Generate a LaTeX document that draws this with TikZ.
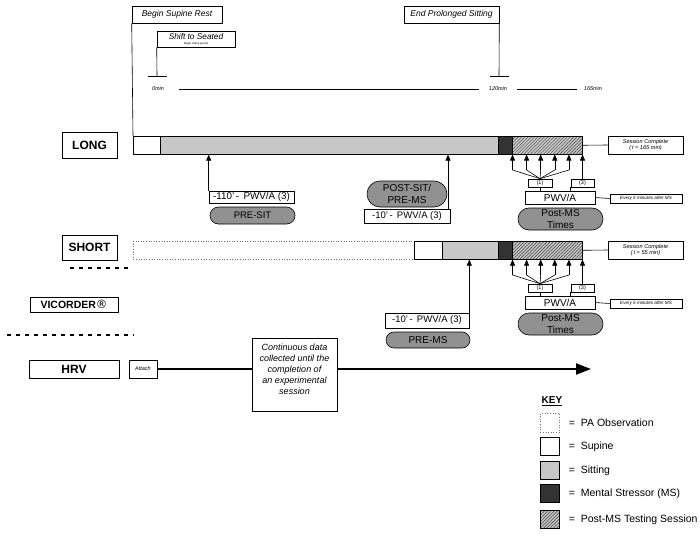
\documentclass[tikz,border=0pt]{standalone}
\usepackage{fontspec}
\setmainfont{Liberation Sans}
\newfontfamily\djv{DejaVu Sans}
\usetikzlibrary{arrows.meta,patterns.meta,shapes.misc}
\begin{document}
\begin{tikzpicture}[x=1pt,y=-1pt,line width=0.6pt,
  box/.style={draw, fill=white, inner sep=0pt, align=center},
  lbl/.style={box, font=\bfseries\fontsize{12}{12}\selectfont},
  seg/.style={draw, inner sep=0pt, anchor=north west, minimum height=18pt},
  supine/.style={seg, fill=white},
  sitting/.style={seg, fill=black!22},
  stressor/.style={seg, fill=black!80},
  hatched/.style={seg, preaction={fill=black!22}, pattern={Lines[angle=45,distance=2.3pt,line width=0.5pt]}, pattern color=black!75},
  paobs/.style={seg, draw=black!55, dotted},
  pill/.style={draw, fill=black!43, rounded rectangle, inner sep=0pt, align=center, font=\fontsize{10}{12}\selectfont},
  up/.style={-{Triangle[width=5pt,length=6pt]}},
  itsm/.style={font=\itshape\fontsize{8.5}{9}\selectfont},
  tinyit/.style={font=\itshape\fontsize{5.6}{6.2}\selectfont},
  sep/.style={line width=1.3pt, dash pattern=on 4pt off 5pt},
  keytxt/.style={anchor=west, font=\fontsize{10.5}{12}\selectfont, inner sep=0pt}]
\path[use as bounding box] (0,0) rectangle (700,535);

% ---- top timeline ----
\node[box, itsm, minimum width=90pt, minimum height=17pt] (bsr) at (177,14.5) {Begin Supine Rest};
\node[box, font=\fontsize{4}{5}\selectfont, minimum width=78pt, minimum height=16pt] (sts) at (196,39)
  {{\itshape\fontsize{8.3}{8.5}\selectfont Shift to Seated}\\{\fontsize{2.8}{3}\selectfont Begin sitting period}};
\node[box, itsm, minimum width=95pt, minimum height=17pt] (eps) at (451.5,14.5) {End Prolonged Sitting};
\coordinate (tk1) at (157,76);
\coordinate (tk2) at (499,76);
\draw (sts.south west) -- (tk1);
\draw ([xshift=-9pt]tk1) -- ([xshift=10pt]tk1);
\draw (eps.south east) -- (tk2);
\draw ([xshift=-9pt]tk2) -- ([xshift=10pt]tk2);
\node[font=\itshape\fontsize{5.5}{6}\selectfont, inner sep=0pt] (t0) at (158,89) {0min};
\node[font=\itshape\fontsize{5.5}{6}\selectfont, inner sep=0pt] (t120) at (498,89) {120min};
\node[font=\itshape\fontsize{5.5}{6}\selectfont, inner sep=0pt] (t165) at (593,89) {165min};
\draw ([xshift=15pt]t0.east) -- ([xshift=-10pt]t120.west);
\draw ([xshift=10pt]t120.east) -- ([xshift=-7pt]t165.west);

% ---- LONG ----
\node[lbl, minimum width=55pt, minimum height=26pt] (long) at (89.5,145) {LONG};
\node[supine, minimum width=27pt] (supL) at (133,136) {};
\node[sitting, minimum width=338pt] (sitL) at (160,136) {};
\node[stressor, minimum width=14pt] (msL) at (498,136) {};
\node[hatched, minimum width=70pt] (hatchL) at (512,136) {};
\node[box, tinyit, minimum width=75pt, minimum height=18pt] (scL) at (645.5,145) {Session Complete\\(\,t = 165 min)};
\draw (bsr.south west) -- (supL.north west);

\node[box, font=\fontsize{9.8}{10}\selectfont, minimum width=85pt, minimum height=12pt] (pwvL1) at (251.5,197) {-110'\,-\, PWV/A (3)};
\node[pill, font=\fontsize{9.5}{10}\selectfont, minimum width=85pt, minimum height=17pt] (presit) at (252.5,215.5) {PRE-SIT};
\draw[up] (pwvL1.north west) -- (pwvL1.north west |- sitL.south);

\node[pill, minimum width=80pt, minimum height=26pt] (postsit) at (407,194) {POST-SIT/\\PRE-MS};
\node[box, font=\fontsize{9.5}{10}\selectfont, minimum width=86pt, minimum height=14pt] (pwvL2) at (407,216) {-10'\,-\, PWV/A (3)};
\coordinate (aL2) at (448,209);
\draw[up] (aL2) -- (aL2 |- sitL.south);

% ---- SHORT ----
\node[lbl, minimum width=55pt, minimum height=25pt] (short) at (89.5,247.5) {SHORT};
\node[paobs, minimum width=281pt] (paS) at (133,241) {};
\node[supine, minimum width=28pt] (supS) at (414,241) {};
\node[sitting, minimum width=56pt] (sitS) at (442,241) {};
\node[stressor, minimum width=14pt] (msS) at (498,241) {};
\node[hatched, minimum width=70pt] (hatchS) at (512,241) {};
\node[box, tinyit, minimum width=75pt, minimum height=18pt] (scS) at (645.5,250) {Session Complete\\(\,t = 55 min)};

\node[box, font=\fontsize{9.5}{10}\selectfont, minimum width=84pt, minimum height=15pt] (pwvS) at (427,320.5) {-10'\,-\, PWV/A (3)};
\node[pill, minimum width=84pt, minimum height=16pt] (prems) at (428,340) {PRE-MS};
\draw[up] (pwvS.north east) -- (pwvS.north east |- sitS.south);

% ---- post-MS groups ----
\foreach \r/\dy in {L/0,S/105}{
  \node[box, font=\fontsize{5.5}{6}\selectfont, minimum width=24pt, minimum height=8pt] (one\r) at (540,183+\dy) {(1)};
  \node[box, font=\fontsize{5.5}{6}\selectfont, minimum width=23pt, minimum height=8pt] (three\r) at (582.5,183+\dy) {(3)};
  \node[box, font=\fontsize{10}{12}\selectfont, minimum width=70pt, minimum height=13pt] (pwv\r) at (560,197.5+\dy) {PWV/A};
  \node[box, font=\itshape\fontsize{4.6}{5}\selectfont, minimum width=72pt, minimum height=9pt] (ev\r) at (646,198.5+\dy) {Every 5 minutes after MS};
  \node[pill, minimum width=85pt, minimum height=22pt] (pm\r) at (560.5,219+\dy) {Post-MS\\Times};
  \draw (pwv\r.east) -- (ev\r.west);
  \draw (one\r.south) -- (one\r.south |- pwv\r.north);
  \draw (three\r.south west) -- (three\r.south west |- pwv\r.north);
  \foreach \i/\x in {1/512.5,2/526.6,3/540.7,4/554.8,5/568.9}{
    \coordinate (st\r\i) at (\x,170+\dy);
    \draw (one\r.north) -- (st\r\i);
    \draw[up] (st\r\i) -- (st\r\i |- hatch\r.south);
  }
  \draw[up] (three\r.north) -- (three\r.north |- hatch\r.south);
  \draw (hatch\r.east) -- (sc\r.west);
}

% ---- separators & VICORDER ----
\draw[sep] (70,268) -- (132,268);
\node[box, font=\bfseries\fontsize{10.5}{12}\selectfont, minimum width=88pt, minimum height=15pt] (vic) at (74,304.5) {VICORDER{\djv\mdseries\fontsize{11.5}{12}\selectfont ®}};
\draw[sep] (7,335) -- (134,335);

% ---- HRV ----
\node[lbl, minimum width=90pt, minimum height=18pt] (hrv) at (74,369) {HRV};
\node[box, font=\itshape\fontsize{5.5}{6}\selectfont, minimum width=28pt, minimum height=18pt] (att) at (143,369) {Attach};
\coordinate (hrvend) at (591,369);
\draw[line width=2.2pt, -{Triangle[width=11pt,length=15pt]}] (att.east) -- (hrvend);
\node[box, minimum width=85pt, minimum height=73pt] (cont) at (294.5,374.5) {};
\node[font=\itshape\fontsize{9}{11}\selectfont, align=center, inner sep=0pt] (conttxt) at (294.5,369)
  {Continuous data\\collected until the\\completion of\\an experimental\\session};

% ---- KEY ----
\node[font=\bfseries\fontsize{10}{12}\selectfont, inner sep=0pt] (key) at (552,401) {\underline{KEY}};
\node[paobs, minimum width=19pt, minimum height=19pt] (k1) at (540,413) {};
\node[supine, minimum width=19pt] (k2) at (540,437) {};
\node[sitting, minimum width=19pt] (k3) at (540,461) {};
\node[stressor, minimum width=19pt] (k4) at (540,484) {};
\node[hatched, minimum width=19pt] (k5) at (540,510) {};
\node[keytxt] (kt1) at ([xshift=9pt]k1.east) {=\; PA Observation};
\node[keytxt] (kt2) at ([xshift=9pt]k2.east) {=\; Supine};
\node[keytxt] (kt3) at ([xshift=9pt]k3.east) {=\; Sitting};
\node[keytxt] (kt4) at ([xshift=9pt]k4.east) {=\; Mental Stressor (MS)};
\node[keytxt] (kt5) at ([xshift=9pt]k5.east) {=\; Post-MS Testing Session};
\end{tikzpicture}
\end{document}
